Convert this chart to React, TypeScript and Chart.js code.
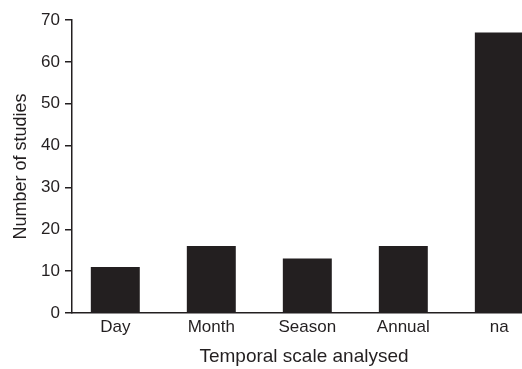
import React, { useEffect, useRef } from "react";
import { Chart, registerables } from "chart.js";

Chart.register(...registerables);

// Number of studies per temporal scale
const categories = ["Day", "Month", "Season", "Annual", "na"];
const studyCounts = [11, 16, 13, 16, 67];
const yMax = 70;
const yStep = 10;

const INK = "#231f20";
const FONT = "'Liberation Sans', Arial, Helvetica, sans-serif";

export default function App() {
  const canvasRef = useRef<HTMLCanvasElement | null>(null);

  useEffect(() => {
    const canvas = canvasRef.current;
    if (!canvas) return;
    const chart = new Chart(canvas, {
      type: "bar",
      data: {
        datasets: [
          {
            data: categories.map((_, i) => ({ x: i, y: studyCounts[i] })),
            backgroundColor: INK,
            borderWidth: 0,
            categoryPercentage: 1,
            barPercentage: 0.51,
          },
        ],
      },
      options: {
        responsive: false,
        animation: false,
        devicePixelRatio: 1,
        layout: { padding: { top: 20, left: 0, right: 0, bottom: 0 } },
        plugins: { legend: { display: false }, tooltip: { enabled: false } },
        scales: {
          x: {
            type: "linear",
            offset: false,
            min: -0.451,
            max: 4.382,
            afterBuildTicks: (s: any) => {
              s.ticks = categories.map((_, i) => ({ value: i }));
            },
            afterFit: (s: any) => {
              s.height = 56;
            },
            grid: { display: false, drawTicks: false },
            border: { display: true, color: INK, width: 1.5 },
            ticks: {
              includeBounds: false,
              autoSkip: false,
              maxRotation: 0,
              padding: 4,
              color: INK,
              font: { family: FONT, size: 17 },
              callback: (v: any) => categories[Math.round(Number(v))] ?? "",
            },
            title: {
              display: true,
              text: "Temporal scale analysed",
              color: INK,
              font: { family: FONT, size: 19 },
              padding: { top: 0, bottom: 1 },
            },
          },
          y: {
            min: 0,
            max: yMax,
            afterFit: (s: any) => {
              s.width = 72;
            },
            grid: {
              drawOnChartArea: false,
              drawTicks: true,
              tickLength: 7,
              color: INK,
              lineWidth: 1.5,
            },
            border: { display: true, color: INK, width: 1.5 },
            ticks: {
              stepSize: yStep,
              padding: 5,
              color: INK,
              font: { family: FONT, size: 17 },
            },
            title: {
              display: true,
              text: "Number of studies",
              color: INK,
              font: { family: FONT, size: 18 },
              padding: { top: 10, bottom: 0 },
            },
          },
        },
      },
    });
    return () => chart.destroy();
  }, []);

  return (
    <div
      style={{
        position: "fixed",
        left: 0,
        top: 0,
        width: 522,
        height: 369,
        overflow: "hidden",
        background: "#fff",
      }}
    >
      <canvas ref={canvasRef} width={536} height={369} style={{ display: "block" }} />
    </div>
  );
}
